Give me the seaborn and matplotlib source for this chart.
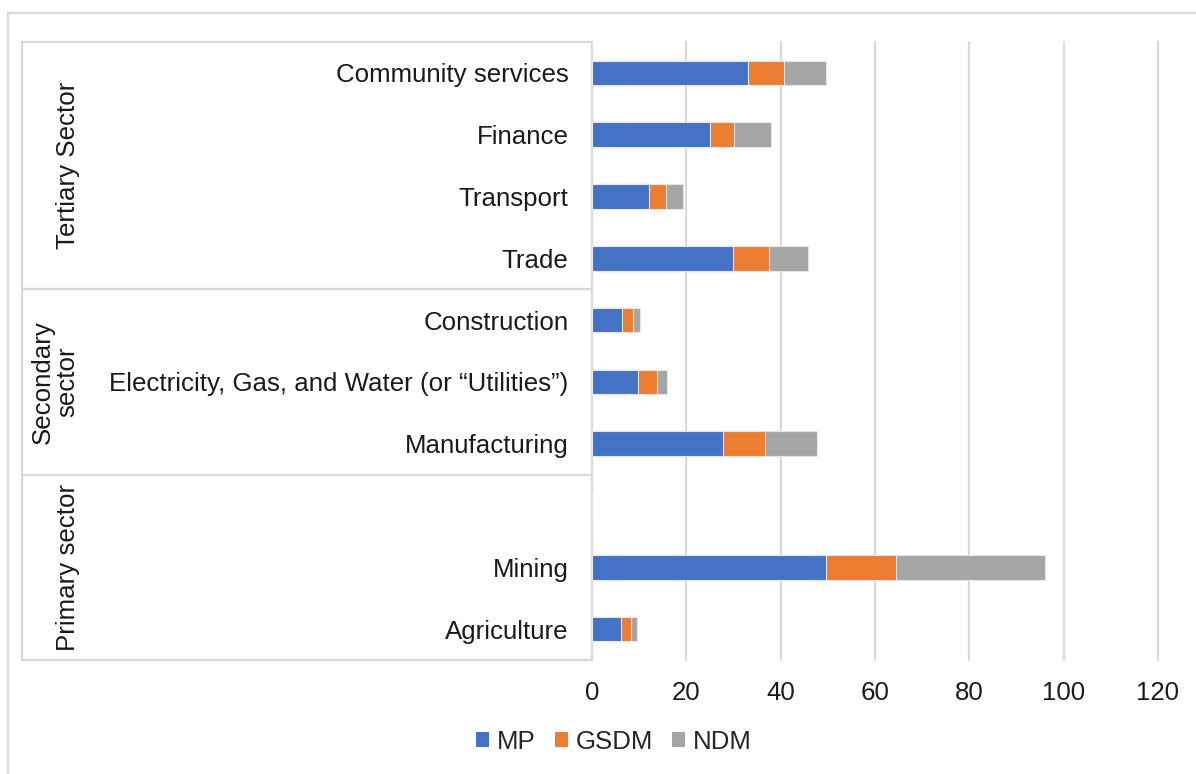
import numpy as np
import pandas as pd
import matplotlib
matplotlib.use("Agg")
import matplotlib.pyplot as plt
import matplotlib.transforms as mtransforms
from matplotlib.lines import Line2D
from matplotlib.patches import Patch, Rectangle
import seaborn as sns

# ---- data ----
categories = ["Community services", "Finance", "Transport", "Trade",
              "Construction", "Electricity, Gas, and Water (or \u201cUtilities\u201d)",
              "Manufacturing", " ", "Mining", "Agriculture"]
mp   = [33.1, 25.0, 12.1, 29.9, 6.4, 9.7, 27.8, 0, 49.6, 6.1]
gsdm = [7.6, 5.2, 3.5, 7.6, 2.2, 4.1, 8.9, 0, 14.8, 2.2]
ndm  = [8.9, 7.8, 3.7, 8.3, 1.6, 2.0, 11.0, 0, 31.6, 1.3]
series = ["MP", "GSDM", "NDM"]
colors = ["#4472C4", "#ED7D31", "#A5A5A5"]
groups = ["Tertiary Sector", "Secondary\nsector", "Primary sector"]
group_sizes = [4, 3, 3]
xticks = [0, 20, 40, 60, 80, 100, 120]

sns.set_theme(style="white")
plt.rcParams["font.family"] = ["Liberation Sans", "DejaVu Sans"]
FS = 18.6
TC = "#1a1a1a"
W, H = 1196, 774
fig = plt.figure(figsize=(W / 100, H / 100), dpi=100)
ax = fig.add_axes([592 / W, 1 - 660 / H, (1158 - 592) / W, (660 - 42) / H])

df = pd.DataFrame({"Sector": categories, "MP": mp, "GSDM": gsdm, "NDM": ndm})
df["c1"] = df["MP"]
df["c2"] = df["MP"] + df["GSDM"]
df["c3"] = df["MP"] + df["GSDM"] + df["NDM"]

for col, c in zip(["c3", "c2", "c1"], colors[::-1]):
    sns.barplot(data=df, y="Sector", x=col, order=categories, color=c,
                width=0.4, orient="h", ax=ax, edgecolor="#e6e6e6",
                linewidth=0.8, saturation=1)

ax.set_xlim(0, 120)
ax.set_ylim(9.5, -0.5)
ax.set_xticks(xticks)
ax.set_xticklabels([str(t) for t in xticks], fontsize=FS, color=TC)
ax.set_xlabel("")
ax.set_ylabel("")
ax.tick_params(axis="y", length=0, pad=17, labelsize=FS, labelcolor=TC)
ax.tick_params(axis="x", length=0, pad=15)
ax.set_axisbelow(True)
ax.xaxis.grid(True, color="#d9d9d9", linewidth=1.6)
for t in ax.xaxis.get_gridlines():
    t.set_clip_on(False)
for s in ax.spines.values():
    s.set_visible(False)

# ---- group table on the left ----
lc = "#d9d9d9"
trans = mtransforms.blended_transform_factory(fig.transFigure, ax.transData)
x_left = 22 / W
x_right = 592 / W
bounds = [-0.5]
for n in group_sizes:
    bounds.append(bounds[-1] + n)
for b in bounds:
    fig.add_artist(Line2D([x_left, x_right], [b, b], transform=trans,
                          color=lc, lw=1.6))
fig.add_artist(Line2D([x_left, x_left], [bounds[0], bounds[-1]], transform=trans,
                      color=lc, lw=1.6))
for g, lo, hi in zip(groups, bounds[:-1], bounds[1:]):
    xpos = 55 / W if "\n" in g else 68 / W
    fig.text(xpos, (lo + hi) / 2, g, transform=trans, rotation=90,
             ha="center", va="center", fontsize=FS, color=TC,
             multialignment="center", linespacing=1.05)

# outer chart border
fig.add_artist(Rectangle((8 / W, -0.1), 1.2, 1 - 13 / H + 0.1,
                         transform=fig.transFigure, fill=False,
                         edgecolor=lc, lw=1.6))

# legend
handles = [Patch(facecolor=c, edgecolor="none") for c in colors]
fig.legend(handles, series, loc="center", bbox_to_anchor=(614 / W, 1 - 742 / H),
           ncol=3, frameon=False, fontsize=FS, handlelength=0.5,
           handleheight=0.5, handletextpad=0.3, columnspacing=0.75)

fig.savefig("out.png", dpi=100)
